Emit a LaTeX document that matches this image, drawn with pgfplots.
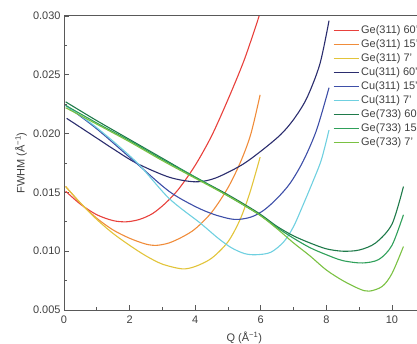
\documentclass[border=0pt]{standalone}
\usepackage{fontspec}
\setmainfont{Liberation Sans}
\usepackage{pgfplots}
\pgfplotsset{compat=1.18}
\definecolor{cred}{HTML}{E8413C}
\definecolor{corange}{HTML}{F08C3A}
\definecolor{cyellow}{HTML}{E2C43A}
\definecolor{cnavy}{HTML}{2B2D6E}
\definecolor{cblue}{HTML}{3E4FA8}
\definecolor{clblue}{HTML}{6FD0E0}
\definecolor{cdgreen}{HTML}{1F7A4A}
\definecolor{cmgreen}{HTML}{2FA05A}
\definecolor{clgreen}{HTML}{7AC142}
\definecolor{txt}{HTML}{404040}
\begin{document}
\begin{tikzpicture}
\path[use as bounding box] (-64bp,-34bp) rectangle (353bp,310bp);
\begin{axis}[
  at={(0bp,0bp)}, anchor=south west,
  scale only axis, width=352.9bp, height=294bp,
  xmin=0, xmax=10.76, ymin=0.005, ymax=0.030,
  axis x line=box, axis y line=left,
  xtick={0,2,4,6,8,10}, minor xtick={1,3,5,7,9},
  ytick={0.005,0.010,0.015,0.020,0.025,0.030},
  minor ytick={0.0075,0.0125,0.0175,0.0225,0.0275},
  scaled y ticks=false,
  yticklabel style={/pgf/number format/.cd, fixed, fixed zerofill, precision=3},
  /pgf/number format/assume math mode=true,
  tick align=inside, xtick pos=bottom, ytick pos=left,
  major tick length=5bp, minor tick length=3bp,
  axis line style={-, draw=black!65, line width=1bp},
  every tick/.style={black!65, line width=0.8bp},
  tick label style={font=\fontsize{11}{13}\selectfont, text=txt},
  xticklabel style={yshift=-2bp},
  label style={font=\fontsize{11}{13}\selectfont, text=txt},
  xlabel={Q (Å\textsuperscript{−1})},
  ylabel={FWHM (Å\textsuperscript{−1})},
  x label style={at={(axis description cs:0.511,0)}, anchor=center, yshift=-28bp},
  y label style={at={(axis description cs:-0.1218,0.5)}, anchor=center},
  legend style={at={(axis description cs:0.762,0.975)}, anchor=north west, draw=none, fill=none,
    font=\fontsize{11}{13}\selectfont, text=txt, row sep=0.6bp, inner sep=0pt, overlay},
  legend cell align=left,
  legend image code/.code={\draw[#1] (0bp,0bp) -- (25bp,0bp);},
  every axis plot/.append style={line width=1.1bp, smooth, tension=0.5},
]
\addplot[cred] coordinates {(0.05,0.0151) (0.5,0.0140) (1.0,0.0131) (1.5,0.0126) (1.9,0.0125) (2.3,0.0127) (2.7,0.0132) (3.1,0.0141) (3.5,0.0153) (4.0,0.0173) (4.5,0.0198) (5.0,0.0229) (5.5,0.0263) (5.95,0.0300)};
\addplot[corange] coordinates {(0.05,0.0155) (0.5,0.0141) (1.0,0.0128) (1.5,0.0118) (2.0,0.0111) (2.5,0.0106) (2.83,0.0105) (3.2,0.0107) (3.6,0.0112) (4.0,0.0119) (4.5,0.0133) (5.0,0.0154) (5.4,0.0177) (5.7,0.0200) (5.98,0.0233)};
\addplot[cyellow] coordinates {(0.05,0.0155) (0.5,0.0141) (1.0,0.0127) (1.5,0.0115) (2.0,0.0105) (2.5,0.0096) (3.0,0.0089) (3.6,0.0085) (4.0,0.0087) (4.5,0.0094) (5.0,0.0108) (5.37,0.0127) (5.67,0.0150) (5.98,0.0180)};
\addplot[cnavy] coordinates {(0.08,0.0213) (0.9,0.0198) (1.5,0.0187) (2.2,0.0175) (3.2,0.0163) (4.0,0.0159) (4.6,0.0162) (5.4,0.0173) (6.0,0.0185) (6.6,0.0199) (7.0,0.0212) (7.4,0.0230) (7.8,0.0259) (8.08,0.0296)};
\addplot[cblue] coordinates {(0.05,0.0224) (1.0,0.0204) (2.2,0.0175) (3.2,0.0151) (4.0,0.0138) (4.6,0.0131) (5.2,0.0127) (5.7,0.0129) (6.1,0.0135) (6.5,0.0145) (6.9,0.0158) (7.3,0.0177) (7.7,0.0203) (8.08,0.0239)};
\addplot[clblue] coordinates {(0.05,0.0224) (1.0,0.0205) (2.2,0.0176) (3.2,0.0145) (4.15,0.0124) (4.7,0.0111) (5.1,0.0103) (5.5,0.0098) (5.85,0.0097) (6.3,0.0099) (6.7,0.0108) (7.0,0.0121) (7.3,0.0140) (7.6,0.0160) (7.85,0.0178) (8.08,0.0203)};
\addplot[cdgreen] coordinates {(0.05,0.0227) (1,0.0211) (2,0.0195) (3,0.0179) (4,0.0163) (5,0.0148) (5.9,0.0133) (6.5,0.0121) (7,0.0113) (7.5,0.0107) (8,0.0102) (8.5,0.0100) (9,0.0101) (9.5,0.0107) (10,0.0123) (10.35,0.0155)};
\addplot[cmgreen] coordinates {(0.05,0.0224) (1,0.0209) (2,0.0194) (3,0.0178) (4,0.0163) (5,0.0147) (5.9,0.0132) (6.5,0.0120) (7,0.0111) (7.5,0.0103) (8,0.0097) (8.5,0.0092) (9.1,0.0090) (9.6,0.0093) (10,0.0105) (10.35,0.0131)};
\addplot[clgreen] coordinates {(0.05,0.0222) (1,0.0208) (2,0.0193) (3,0.0177) (4,0.0162) (5,0.0147) (5.9,0.0132) (6.5,0.0119) (7,0.0107) (7.5,0.0096) (8,0.0084) (8.5,0.0075) (9,0.0068) (9.3,0.0066) (9.7,0.0070) (10,0.0081) (10.35,0.0104)};
\legend{Ge(311) 60', Ge(311) 15', Ge(311) 7', Cu(311) 60', Cu(311) 15', Cu(311) 7', Ge(733) 60', Ge(733) 15', Ge(733) 7'}
\end{axis}
\end{tikzpicture}
\end{document}
